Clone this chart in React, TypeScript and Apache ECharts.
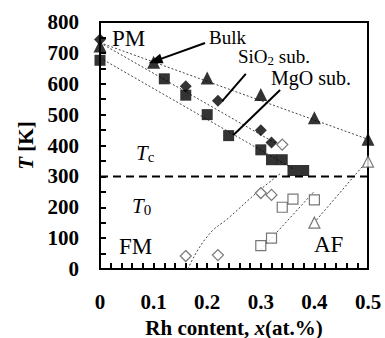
import React, { useEffect, useRef } from "react";
import * as echarts from "echarts";

// Tc data (filled markers)
const bulkTcX = [0, 0.1, 0.2, 0.3, 0.4, 0.5];
const bulkTcY = [722, 670, 619, 565, 490, 420];
const sio2TcX = [0, 0.16, 0.22, 0.3, 0.32];
const sio2TcY = [743, 592, 545, 449, 410];
const sio2TcOpenX = [0.34];
const sio2TcOpenY = [403];
const mgoTcX = [0, 0.12, 0.16, 0.2, 0.24, 0.3, 0.32, 0.34, 0.36, 0.38];
const mgoTcY = [676, 616, 563, 500, 432, 386, 354, 354, 319, 319];
// T0 data (open markers)
const sio2T0X = [0.16, 0.22, 0.3, 0.32];
const sio2T0Y = [42, 45, 246, 240];
const mgoT0X = [0.3, 0.32, 0.34, 0.36, 0.4];
const mgoT0Y = [76, 100, 200, 226, 224];
const bulkT0X = [0.4, 0.5];
const bulkT0Y = [150, 348];
// guide lines
const bulkTcFitX = [0, 0.5];
const bulkTcFitY = [733, 420];
const sio2TcFitX = [0, 0.34];
const sio2TcFitY = [733, 395];
const mgoTcFitX = [0, 0.36];
const mgoTcFitY = [684, 325];
const sio2T0FitX = [0.164, 0.2, 0.243, 0.295, 0.338];
const sio2T0FitY = [0, 105, 170, 251, 311];
const mgoT0FitX = [0.3, 0.4];
const mgoT0FitY = [62, 252];
const bulkT0FitX = [0.404, 0.495];
const bulkT0FitY = [159, 343];
const roomTemp = 300;
const xTicks = [0, 0.1, 0.2, 0.3, 0.4, 0.5];
const yTicks = [0, 100, 200, 300, 400, 500, 600, 700, 800];

const zip = (xs: number[], ys: number[]) => xs.map((x, i) => [x, ys[i]]);
const FONT = "Liberation Serif";

export default function App() {
  const ref = useRef<HTMLDivElement>(null);
  useEffect(() => {
    if (!ref.current) return;
    document.body.style.margin = "0";
    const chart = echarts.init(ref.current, undefined, { renderer: "svg" });
    const fit = (xs: number[], ys: number[], smooth = false) => ({
      type: "line",
      data: zip(xs, ys),
      symbol: "none",
      smooth,
      silent: true,
      z: 1,
      lineStyle: { color: "#444", width: 1, type: [2, 2] },
    });
    const filled = (xs: number[], ys: number[], symbol: string, size: number) => ({
      type: "scatter",
      data: zip(xs, ys),
      symbol,
      symbolSize: size,
      z: 5,
      itemStyle: { color: "#000" },
    });
    const open = (xs: number[], ys: number[], symbol: string, size: number) => ({
      type: "scatter",
      data: zip(xs, ys),
      symbol,
      symbolSize: size,
      z: 5,
      itemStyle: { color: "#fff", borderColor: "#555", borderWidth: 1.2 },
    });
    const pointer = (from: number[], to: number[], arrow: boolean) => ({
      type: "line",
      data: [],
      markLine: {
        silent: true,
        animation: false,
        symbol: arrow ? ["none", "triangle"] : ["none", "none"],
        symbolSize: [10, 14],
        label: { show: false },
        lineStyle: { color: "#000", width: 2, type: "solid" },
        data: [[{ coord: from }, { coord: to }]],
      },
    });
    const boldRich = {
      b: { fontFamily: FONT, fontWeight: "bold", fontSize: 21, color: "#000" },
      i: { fontFamily: FONT, fontWeight: "bold", fontStyle: "italic", fontSize: 21, color: "#000" },
    };
    chart.setOption({
      animation: false,
      textStyle: { fontFamily: FONT },
      grid: {
        left: 100,
        right: 17,
        top: 22,
        bottom: 69,
        show: true,
        borderColor: "#000",
        borderWidth: 2,
        containLabel: false,
        outerBoundsMode: "none",
      },
      xAxis: {
        type: "value",
        min: 0,
        max: 0.5,
        interval: 0.1,
        name: "{b|Rh content, }{i|x}{b|(at.%)}",
        nameLocation: "middle",
        nameGap: 48,
        nameTextStyle: { fontFamily: FONT, fontWeight: "bold", fontSize: 21, rich: boldRich },
        axisLine: { lineStyle: { color: "#000", width: 2 } },
        axisTick: { inside: true, length: 6, lineStyle: { color: "#000", width: 2 } },
        minorTick: { show: true, splitNumber: 5, length: 6, lineStyle: { color: "#000", width: 2 } },
        splitLine: { show: false },
        axisLabel: {
          margin: 22,
          fontFamily: FONT,
          fontWeight: "bold",
          fontSize: 21,
          color: "#000",
          formatter: (v: number) => (xTicks.includes(Math.round(v * 10) / 10) ? String(Math.round(v * 10) / 10) : ""),
        },
      },
      yAxis: {
        type: "value",
        min: 0,
        max: 800,
        interval: 100,
        name: "{i|T}{b| [K]}",
        nameLocation: "middle",
        nameRotate: 90,
        nameGap: 64,
        nameTextStyle: { fontFamily: FONT, fontWeight: "bold", fontSize: 21, rich: boldRich },
        axisLine: { lineStyle: { color: "#000", width: 2 } },
        axisTick: { inside: true, length: 6, lineStyle: { color: "#000", width: 2 } },
        minorTick: { show: true, splitNumber: 2, length: 6, lineStyle: { color: "#000", width: 2 } },
        splitLine: { show: false },
        axisLabel: {
          margin: 21,
          fontFamily: FONT,
          fontWeight: "bold",
          fontSize: 21,
          color: "#000",
          formatter: (v: number) => (yTicks.includes(v) ? String(v) : ""),
        },
      },
      series: [
        {
          type: "line",
          data: [[0, roomTemp], [0.5, roomTemp]],
          symbol: "none",
          silent: true,
          z: 2,
          lineStyle: { color: "#000", width: 2, type: [8, 5] },
        },
        fit(bulkTcFitX, bulkTcFitY),
        fit(sio2TcFitX, sio2TcFitY),
        fit(mgoTcFitX, mgoTcFitY),
        fit(sio2T0FitX, sio2T0FitY, true),
        fit(mgoT0FitX, mgoT0FitY),
        fit(bulkT0FitX, bulkT0FitY),
        pointer([0.196, 732], [0.103, 674], true),
        pointer([0.272, 632], [0.228, 544], false),
        pointer([0.336, 580], [0.249, 434], false),
        filled(bulkTcX, bulkTcY, "triangle", 13),
        filled(sio2TcX, sio2TcY, "diamond", 12),
        filled(mgoTcX, mgoTcY, "rect", 11),
        open(sio2TcOpenX, sio2TcOpenY, "diamond", 11),
        open(sio2T0X, sio2T0Y, "diamond", 11),
        open(mgoT0X, mgoT0Y, "rect", 10),
        open(bulkT0X, bulkT0Y, "triangle", 11),
      ],
      graphic: [
        { type: "text", left: 112, top: 27, style: { text: "PM", font: `23px ${FONT}`, fill: "#000" } },
        { type: "text", left: 209, top: 28, style: { text: "Bulk", font: `19px ${FONT}`, fill: "#000" } },
        {
          type: "text",
          left: 238,
          top: 47,
          style: {
            text: "{n|SiO}{s|2}{n| sub.}",
            rich: {
              n: { fontFamily: FONT, fontSize: 19, fill: "#000", color: "#000" },
              s: { fontFamily: FONT, fontSize: 13, fill: "#000", color: "#000", verticalAlign: "bottom", padding: [8, 0, 0, 0] },
            },
          },
        },
        { type: "text", left: 271, top: 68, style: { text: "MgO sub.", font: `20px ${FONT}`, fill: "#000" } },
        {
          type: "text",
          left: 136,
          top: 142,
          style: {
            text: "{t|T}{s|c}",
            rich: {
              t: { fontFamily: FONT, fontStyle: "italic", fontSize: 21, fill: "#000", color: "#000" },
              s: { fontFamily: FONT, fontSize: 15, fill: "#000", color: "#000", padding: [8, 0, 0, 0] },
            },
          },
        },
        {
          type: "text",
          left: 132,
          top: 195,
          style: {
            text: "{t|T}{s|0}",
            rich: {
              t: { fontFamily: FONT, fontStyle: "italic", fontSize: 21, fill: "#000", color: "#000" },
              s: { fontFamily: FONT, fontSize: 15, fill: "#000", color: "#000", padding: [8, 0, 0, 0] },
            },
          },
        },
        { type: "text", left: 119, top: 235, style: { text: "FM", font: `23px ${FONT}`, fill: "#000" } },
        { type: "text", left: 314, top: 233, style: { text: "AF", font: `23px ${FONT}`, fill: "#000" } },
      ],
    });
    return () => chart.dispose();
  }, []);
  return <div ref={ref} style={{ width: 385, height: 338 }} />;
}
